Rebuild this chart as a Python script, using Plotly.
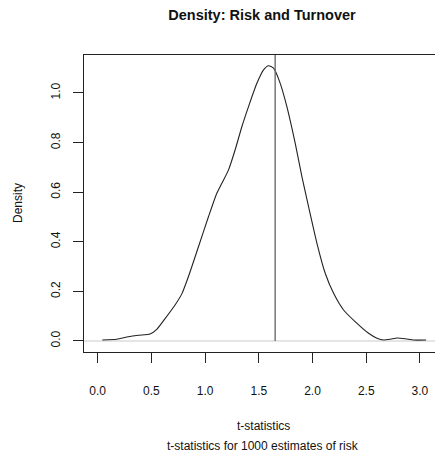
import plotly.graph_objects as go

# Density curve
t_values = [0.043, 0.177, 0.285, 0.379, 0.487, 0.55, 0.627, 0.72, 0.783, 0.845, 0.938,
            1.031, 1.109, 1.156, 1.218, 1.279, 1.342, 1.404, 1.482, 1.544, 1.59, 1.637, 1.699,
            1.761, 1.839, 1.901, 1.963, 2.041, 2.118, 2.196, 2.289, 2.414, 2.522, 2.6, 2.662,
            2.724, 2.787, 2.864, 2.94, 3.057]
density = [0.004, 0.007, 0.017, 0.023, 0.028, 0.047, 0.09, 0.145, 0.19, 0.26, 0.38,
           0.501, 0.596, 0.636, 0.69, 0.77, 0.864, 0.945, 1.039, 1.093, 1.11, 1.1, 1.039,
           0.945, 0.797, 0.663, 0.542, 0.394, 0.273, 0.192, 0.125, 0.071, 0.031, 0.011, 0.004,
           0.007, 0.012, 0.009, 0.004, 0.004]
vline_x = 1.652
x_ticks = [0.0, 0.5, 1.0, 1.5, 2.0, 2.5, 3.0]
x_ticktext = ["0.0", "0.5", "1.0", "1.5", "2.0", "2.5", "3.0"]
y_ticks = [0.0, 0.2, 0.4, 0.6, 0.8, 1.0]
y_ticktext = ["0.0", "0.2", "0.4", "0.6", "0.8", "1.0"]

x_range = [-0.1275, 3.14]
y_range = [-0.0444, 1.1532]

FONT = "Liberation Sans, Arial, sans-serif"

fig = go.Figure()
fig.add_trace(go.Scatter(x=t_values, y=density, mode="lines", line=dict(color="#222222", width=1.1),
                         line_shape="spline", line_smoothing=0.6, hoverinfo="skip", showlegend=False))
fig.add_trace(go.Scatter(x=[vline_x, vline_x], y=[0, y_range[1] + 0.1], mode="lines",
                         line=dict(color="#6e6e6e", width=1.4), hoverinfo="skip", showlegend=False))

fig.add_shape(type="line", xref="paper", yref="y", x0=0, x1=1, y0=0, y1=0,
              line=dict(color="#cccccc", width=1.2), layer="below")

fig.update_layout(
    width=435, height=455,
    margin=dict(l=84, r=0, t=55, b=103),
    paper_bgcolor="white", plot_bgcolor="white",
    font=dict(family=FONT, size=12, color="#111111"),
    title=dict(text="<b>Density: Risk and Turnover</b>", font=dict(family=FONT, size=14.5, color="#111111"),
               x=262 / 435, xref="container", xanchor="center",
               y=1 - 15 / 455, yref="container", yanchor="middle"),
    xaxis=dict(range=x_range, tickvals=x_ticks, ticktext=x_ticktext, ticks="outside", ticklen=10,
               tickwidth=1, tickcolor="#222222", showline=True, linecolor="#222222", linewidth=1,
               mirror=True, showgrid=False, zeroline=False, ticklabelstandoff=18,
               tickfont=dict(size=12)),
    yaxis=dict(range=y_range, tickvals=y_ticks, ticktext=y_ticktext, ticks="outside", ticklen=10,
               tickwidth=1, tickcolor="#222222", showline=True, linecolor="#222222", linewidth=1,
               mirror=False, showgrid=False, zeroline=False, tickangle=-90, ticklabelstandoff=8,
               tickfont=dict(size=12)),
    annotations=[
        dict(text="t-statistics", xref="paper", yref="paper", x=(263 - 84) / 351, y=(352 - 426) / 297,
             showarrow=False, xanchor="center", yanchor="middle", font=dict(size=12)),
        dict(text="t-statistics for 1000 estimates of risk", xref="paper", yref="paper",
             x=(263 - 84) / 351, y=(352 - 446) / 297,
             showarrow=False, xanchor="center", yanchor="middle", font=dict(size=12)),
        dict(text="Density", xref="paper", yref="paper", x=(18 - 84) / 351, y=(352 - 203) / 297,
             showarrow=False, xanchor="center", yanchor="middle", textangle=-90, font=dict(size=12)),
    ],
)

fig.write_html("out.html")
